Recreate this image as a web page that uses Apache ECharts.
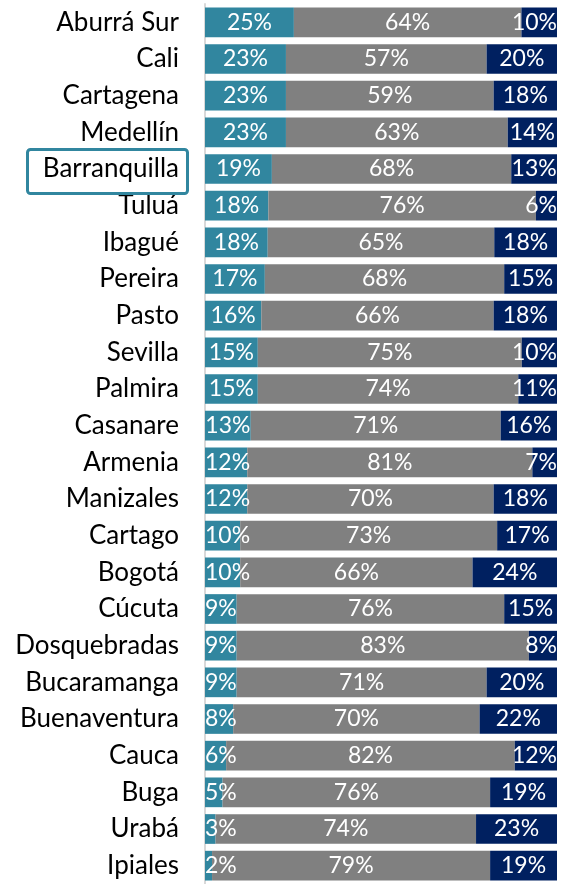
<!DOCTYPE html>
<html>
<head>
<meta charset="utf-8">
<script src="https://cdn.jsdelivr.net/npm/echarts@6/dist/echarts.min.js"></script>
<style>
  html, body { margin: 0; padding: 0; background: #fff; }
  #chart { width: 564px; height: 884px; }
</style>
</head>
<body>
<div id="chart"></div>
<script>
// ciudades, de arriba hacia abajo
const categories = ['Aburrá Sur', 'Cali', 'Cartagena', 'Medellín', 'Barranquilla', 'Tuluá', 'Ibagué', 'Pereira',
  'Pasto', 'Sevilla', 'Palmira', 'Casanare', 'Armenia', 'Manizales', 'Cartago', 'Bogotá', 'Cúcuta',
  'Dosquebradas', 'Bucaramanga', 'Buenaventura', 'Cauca', 'Buga', 'Urabá', 'Ipiales']
const tealValues = [25, 23, 23, 23, 19, 18, 18, 17, 16, 15, 15, 13, 12, 12, 10, 10, 9, 9, 9, 8, 6, 5, 3, 2]
const grayValues = [64, 57, 59, 63, 68, 76, 65, 68, 66, 75, 74, 71, 81, 70, 73, 66, 76, 83, 71, 70, 82, 76, 74, 79]
const navyValues = [10, 20, 18, 14, 13, 6, 18, 15, 18, 10, 11, 16, 7, 18, 17, 24, 15, 8, 20, 22, 12, 19, 23, 19]

const GRID_LEFT = 205
const GRID_RIGHT = 7
const FONT = 'Lato'

// barra al 100%: cada fila se reparte sobre su propio total
const totals = categories.map((c, i) => tealValues[i] + grayValues[i] + navyValues[i])
const toShare = (arr) => arr.map((v, i) => ({ value: v / totals[i] * 100, raw: v }))

const chart = echarts.init(document.getElementById('chart'))

function makeSeries (name, values, color) {
  return {
    name: name,
    type: 'bar',
    stack: 'total',
    barCategoryGap: '19%',
    data: toShare(values),
    itemStyle: { color: color },
    label: {
      show: true,
      position: 'inside',
      color: '#fff',
      fontFamily: FONT,
      fontSize: 23,
      offset: [0, 2],
      formatter: (p) => p.data.raw + '%'
    },
    // los rótulos no se salen del área del gráfico
    labelLayout: function (params) {
      const r = params.labelRect
      const right = 564 - GRID_RIGHT
      if (r.x < GRID_LEFT) return { dx: GRID_LEFT - r.x }
      if (r.x + r.width > right) return { dx: right - (r.x + r.width) }
      return {}
    }
  }
}

const option = {
  animation: false,
  grid: {
    left: GRID_LEFT,
    right: GRID_RIGHT,
    top: 4,
    height: 886
  },
  xAxis: {
    type: 'value',
    min: 0,
    max: 100,
    show: false
  },
  yAxis: {
    type: 'category',
    inverse: true,
    data: categories,
    axisLine: { show: true, lineStyle: { color: '#d9d9d9', width: 2 } },
    axisTick: { show: false },
    axisLabel: {
      color: '#000',
      fontFamily: FONT,
      fontSize: 26,
      padding: [4, 0, 0, 0],
      margin: 26
    }
  },
  series: [
    makeSeries('teal', tealValues, '#31869f'),
    makeSeries('gray', grayValues, '#808080'),
    makeSeries('navy', navyValues, '#002060')
  ],
  graphic: [
    {
      type: 'rect',
      left: 25,
      top: 147,
      shape: { width: 160, height: 44, r: 3 },
      style: { fill: 'none', stroke: '#31869f', lineWidth: 3 },
      z: 10
    }
  ]
}

chart.setOption(option)
</script>
</body>
</html>
